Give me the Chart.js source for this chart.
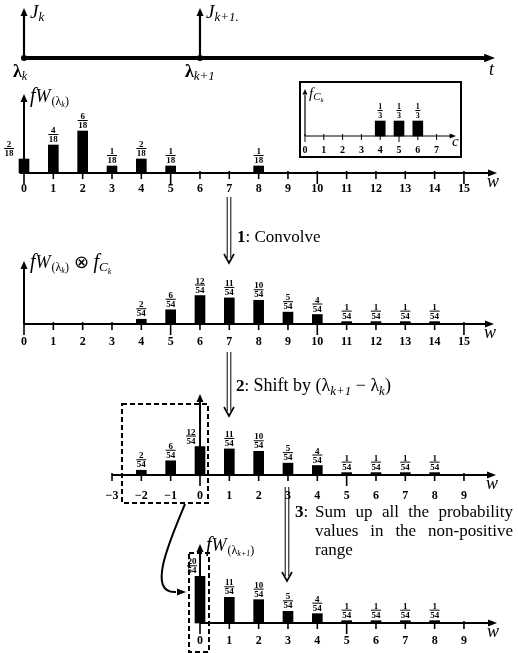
<!DOCTYPE html>
<html><head><meta charset="utf-8">
<script src="https://cdn.jsdelivr.net/npm/chart.js@4.4.0/dist/chart.umd.min.js"></script>
<style>html,body{margin:0;padding:0;background:#fff;}canvas{display:block}</style>
</head><body>
<canvas id="c" width="518" height="653"></canvas>
<script>
// ---------------- data ----------------
const timeEvents = [0, 6];                       // λk, λk+1 on the w scale
const wTicksTop = [0,1,2,3,4,5,6,7,8,9,10,11,12,13,14,15];
const fW_w   = [0,1,2,3,4,5,8];
const fW_num = [2,4,6,1,2,1,1];
const fW_den = 18;
const cTicks = [0,1,2,3,4,5,6,7];
const fC_c   = [4,5,6];
const fC_num = [1,1,1];
const fC_den = 3;
const wTicksConv = [0,1,2,3,4,5,6,7,8,9,10,11,12,13,14,15];
const conv_w   = [4,5,6,7,8,9,10,11,12,13,14];
const conv_num = [2,6,12,11,10,5,4,1,1,1,1];
const conv_den = 54;
const wTicksShift = [-3,-2,-1,0,1,2,3,4,5,6,7,8,9];
const shift_w   = [-2,-1,0,1,2,3,4,5,6,7,8];
const shift_num = [2,6,12,11,10,5,4,1,1,1,1];
const shift_den = 54;
const wTicksFinal = [0,1,2,3,4,5,6,7,8,9];
const final_w   = [0,1,2,3,4,5,6,7,8];
const final_num = [20,11,10,5,4,1,1,1,1];
const final_den = 54;

// ---------------- layout helpers ----------------
const W = 518, H = 653;
const SERIF = '"Liberation Serif","Times New Roman",serif';
const F = (style, size) => `${style} ${size}px ${SERIF}`;
function xCfg(px0, ppu){ return {type:'linear', display:false, offset:false, bounds:'data', min:-px0/ppu, max:(W-px0)/ppu}; }
function yCfg(py0, ppu){ return {type:'linear', display:false, bounds:'data', beginAtZero:false, min:-(H-py0)/ppu, max:py0/ppu}; }
function bars(xs, nums, den, xID, yID, thick){
  return { data: xs.map((x,i)=>({x:x, y:nums[i]/den})), xAxisID:xID, yAxisID:yID,
    backgroundColor:'#000', borderWidth:0, barThickness:thick, grouped:false };
}

const panels = [
  {ds:0, x:'xL', y:'y1', ticks:wTicksTop,   vals:fW_w,   nums:fW_num,   den:fW_den,   start:20,  end:497, yTop:94,  lblDy:16, zeroDx:-15, wLbl:true},
  {ds:2, x:'xL', y:'y2', ticks:wTicksConv,  vals:conv_w, nums:conv_num, den:conv_den, start:24,  end:494, yTop:261, lblDy:18, zeroDx:0,   wLbl:true},
  {ds:3, x:'xR', y:'y3', ticks:wTicksShift, vals:shift_w,nums:shift_num,den:shift_den,start:112, end:496, yTop:394, lblDy:21, zeroDx:-9,  wLbl:true},
  {ds:4, x:'xR', y:'y4', ticks:wTicksFinal, vals:final_w,nums:final_num,den:final_den,start:200, end:497, yTop:544, lblDy:18, zeroDx:-8,  wLbl:true},
  {ds:1, x:'xI', y:'yI', ticks:cTicks,      vals:fC_c,   nums:fC_num,   den:fC_den,   start:305, end:456, yTop:89,  lblDy:14, zeroDx:0,   wLbl:false, small:true}
];

// ---------------- drawing plugin ----------------
const diagram = {
  id:'diagram',
  afterDatasetsDraw(chart){
    const ctx = chart.ctx, S = chart.scales;
    ctx.save();
    ctx.fillStyle = '#000'; ctx.strokeStyle = '#000'; ctx.lineCap = 'butt';
    const line = (x1,y1,x2,y2,w)=>{ ctx.lineWidth=w; ctx.beginPath(); ctx.moveTo(x1,y1); ctx.lineTo(x2,y2); ctx.stroke(); };
    const arrowUp = (x,y,s=1)=>{ ctx.beginPath(); ctx.moveTo(x,y); ctx.lineTo(x-3.5*s,y+8*s); ctx.lineTo(x+3.5*s,y+8*s); ctx.closePath(); ctx.fill(); };
    const arrowRight = (x,y,s=1)=>{ ctx.beginPath(); ctx.moveTo(x,y); ctx.lineTo(x-9*s,y-3.5*s); ctx.lineTo(x-9*s,y+3.5*s); ctx.closePath(); ctx.fill(); };
    const runs = (x,y,list)=>{ let cx=x; ctx.textAlign='left'; ctx.textBaseline='alphabetic';
      for(const r of list){ ctx.font=r[1]; ctx.fillText(r[0],cx,y+(r[2]||0)); cx+=ctx.measureText(r[0]).width+(r[3]||0);} return cx; };
    const frac = (n,d,cx,b,size=9)=>{
      ctx.font = F('bold',size); ctx.textAlign='center'; ctx.textBaseline='alphabetic';
      const wdt = Math.max(ctx.measureText(String(n)).width, ctx.measureText(String(d)).width)+1;
      ctx.fillText(String(d), cx, b);
      line(cx-wdt/2, b-7.5, cx+wdt/2, b-7.5, 1);
      ctx.fillText(String(n), cx, b-9);
    };
    const dblArrow = (x,y1,y2)=>{
      line(x-1.8,y1,x-1.8,y2-5,1); line(x+1.8,y1,x+1.8,y2-5,1);
      ctx.lineWidth=1.6; ctx.beginPath(); ctx.moveTo(x-5,y2-9); ctx.lineTo(x,y2); ctx.lineTo(x+5,y2-9); ctx.stroke();
    };

    // ---- timeline ----
    const ty = 58;
    line(22, ty, 486, ty, 4); arrowRight(495, ty, 1.2);
    timeEvents.forEach(t=>{ const px = S.xL.getPixelForValue(t);
      line(px, ty+2, px, 16, 2.2); arrowUp(px, 8, 1);
      ctx.beginPath(); ctx.arc(px, ty, 3, 0, Math.PI*2); ctx.fill(); });
    const t0 = S.xL.getPixelForValue(timeEvents[0]), t1 = S.xL.getPixelForValue(timeEvents[1]);
    runs(t0+6, 18, [['J',F('italic',19)],['k',F('italic',13),3]]);
    runs(t1+6, 18, [['J',F('italic',19)],['k+1.',F('italic',13),3]]);
    runs(t0-11, 77, [['λ',F('bold',18)],['k',F('italic',12),3]]);
    runs(t1-15, 77, [['λ',F('bold',18)],['k+1',F('italic',13),3]]);
    runs(489, 75, [['t',F('italic',18)]]);

    // ---- inset box ----
    ctx.lineWidth = 2; ctx.strokeRect(300, 82, 161, 75);

    // ---- panels ----
    panels.forEach(p=>{
      const xs = S[p.x], ys = S[p.y];
      const y0 = ys.getPixelForValue(0), xa = xs.getPixelForValue(0);
      const sm = !!p.small;
      line(p.start, y0, p.end-6, y0, sm?1.2:2); arrowRight(p.end, y0, sm?0.7:1);
      line(xa, y0, xa, p.yTop+6, sm?1.2:2); arrowUp(xa, p.yTop, sm?0.7:1);
      p.ticks.forEach(v=>{
        const px = xs.getPixelForValue(v);
        const len = (v%5===0) ? (sm?6:11) : (sm?4:6);
        line(px, y0-2, px, y0+len, sm?1:1.6);
        ctx.font = F('bold', sm?10:12); ctx.textAlign='center'; ctx.textBaseline='middle';
        ctx.fillText(v<0 ? '\u2212'+Math.abs(v) : String(v), px, y0+p.lblDy);
      });
      if(p.wLbl){ ctx.font=F('italic',18); ctx.textAlign='center'; ctx.textBaseline='middle'; ctx.fillText('w', p.end-4, y0+9); }
      const meta = chart.getDatasetMeta(p.ds);
      meta.data.forEach((el,i)=>{
        const dx = p.vals[i]===0 ? p.zeroDx : 0;
        frac(p.nums[i], p.den, el.x+dx, el.y-3, sm?8:9);
      });
    });
    // inset c label
    ctx.font=F('italic',15); ctx.textAlign='left'; ctx.textBaseline='alphabetic'; ctx.fillText('c', 452, 146);

    // ---- axis titles ----
    const subW = (k)=>[['f',F('italic',20)],['W',F('italic',18),0,1],['(λ',F('normal',12),3],[k,F('italic',8),5],[')',F('normal',12),3]];
    runs(30, 102, subW('k'));
    const e2 = runs(30, 268, subW('k'));
    runs(e2+5, 268, [['\u2297 ',F('normal',18)],['f',F('italic',20)],['C',F('italic',13),3],['k',F('italic',8),6]]);
    runs(206, 551, subW('k+1'));
    runs(309, 98, [['f',F('italic',15)],['C',F('italic',11),2],['k',F('italic',7),4]]);

    // ---- step arrows and texts ----
    dblArrow(229, 197, 263);
    runs(237, 242, [['1',F('bold',17)],[': Convolve',F('normal',17)]]);
    dblArrow(229, 352, 416);
    runs(236, 391, [['2',F('bold',17)],[': ',F('normal',17)],['Shift by (',F('normal',18)],['λ',F('normal',18)],['k+1',F('italic',13),4],[' \u2212 ',F('normal',18)],['λ',F('normal',18)],['k',F('italic',13),4],[')',F('normal',18)]]);
    dblArrow(287, 487, 581);
    runs(295, 517, [['3',F('bold',17)],[':',F('normal',17)]]);
    const just = (txt, x1, x2, y)=>{ ctx.font=F('normal',17); ctx.textAlign='left'; ctx.textBaseline='alphabetic';
      const ws = txt.split(' '); const tot = ws.reduce((a,w)=>a+ctx.measureText(w).width,0);
      const gap = (x2-x1-tot)/(ws.length-1); let cx=x1; ws.forEach(w=>{ ctx.fillText(w,cx,y); cx+=ctx.measureText(w).width+gap; }); };
    just('Sum up all the probability', 315, 513, 517);
    just('values in the non-positive', 315, 513, 536);
    ctx.font=F('normal',17); ctx.fillText('range', 315, 555);

    // ---- dashed boxes ----
    ctx.setLineDash([5,3]); ctx.lineWidth = 2;
    ctx.strokeRect(122, 404, 86, 99);
    ctx.strokeRect(189, 553, 20, 99);
    ctx.setLineDash([]);

    // ---- curved arrow ----
    ctx.lineWidth = 2; ctx.beginPath(); ctx.moveTo(185, 504);
    ctx.bezierCurveTo(170, 540, 146, 594, 176, 592); ctx.stroke();
    arrowRight(186, 592, 1);
    ctx.restore();
  }
};

new Chart(document.getElementById('c'), {
  type:'bar',
  data:{ datasets:[
    bars(fW_w, fW_num, fW_den, 'xL', 'y1', 10),
    bars(fC_c, fC_num, fC_den, 'xI', 'yI', 10),
    bars(conv_w, conv_num, conv_den, 'xL', 'y2', 10),
    bars(shift_w, shift_num, shift_den, 'xR', 'y3', 10),
    bars(final_w, final_num, final_den, 'xR', 'y4', 10)
  ]},
  options:{
    responsive:false, animation:false, devicePixelRatio:1, events:[],
    layout:{padding:0},
    plugins:{legend:{display:false}, tooltip:{enabled:false}},
    scales:{
      xL: xCfg(24, 29.33), xR: xCfg(200, 29.33), xI: xCfg(305, 18.8),
      y1: yCfg(173, 126), yI: yCfg(136, 45), y2: yCfg(324, 128), y3: yCfg(475, 128), y4: yCfg(623, 126)
    }
  },
  plugins:[diagram]
});
</script>
</body></html>
